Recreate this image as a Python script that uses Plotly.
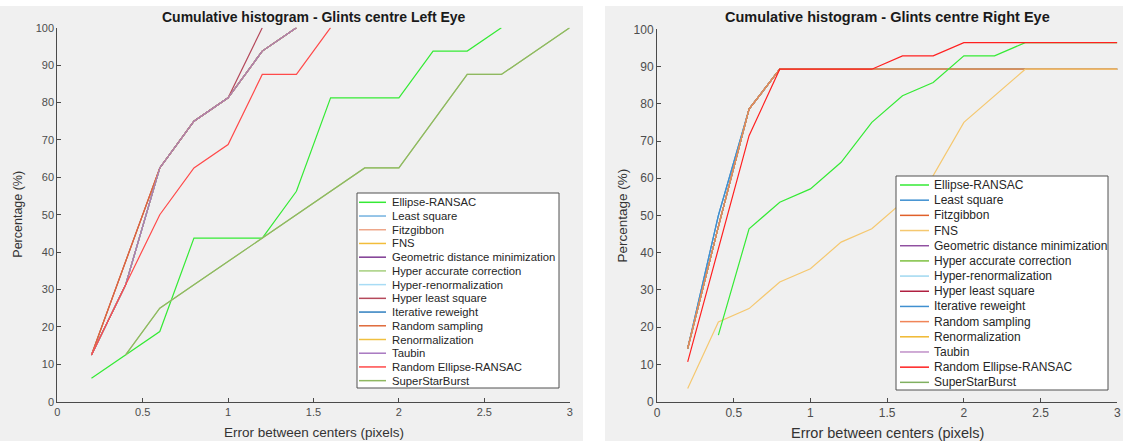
import plotly.graph_objects as go

W, H = 1123, 441
FONT = "Liberation Sans, Arial, sans-serif"

# ---------------- data ----------------
methods = [
    "Ellipse-RANSAC", "Least square", "Fitzgibbon", "FNS",
    "Geometric distance minimization", "Hyper accurate correction",
    "Hyper-renormalization", "Hyper least square", "Iterative reweight",
    "Random sampling", "Renormalization", "Taubin",
    "Random Ellipse-RANSAC", "SuperStarBurst",
]

error_px = [0.2, 0.4, 0.6, 0.8, 1.0, 1.2, 1.4, 1.6, 1.8, 2.0, 2.2, 2.4, 2.6, 2.8, 3.0]
x_ticks = [0, 0.5, 1, 1.5, 2, 2.5, 3]
x_tick_labels = ["0", "0.5", "1", "1.5", "2", "2.5", "3"]
y_ticks = [0, 10, 20, 30, 40, 50, 60, 70, 80, 90, 100]

# Left eye cumulative percentages (aligned to error_px, None = no sample)
left_ellipse_ransac = [6.25, 12.5, 18.75, 43.75, 43.75, 43.75, 56.25, 81.25, 81.25, 81.25, 93.75, 93.75, 100]
left_taubin_group = [12.5, 31.25, 62.5, 75, 81.25, 93.75, 100]
left_fitzgibbon_group = [12.5, 37.5, 62.5, 75, 81.25, 93.75, 100]
left_hyper_lsq = [12.5, 37.5, 62.5, 75, 81.25, 100]
left_hyper_accurate_group = [None, 12.5, 25, 31.25, 37.5, 43.75, 50, 56.25, 62.5, 62.5, 75, 87.5, 87.5, 93.75, 100]
left_random_ellipse = [12.5, 31.25, 50, 62.5, 68.75, 87.5, 87.5, 100]

# Right eye cumulative percentages
right_ellipse_ransac = [None, 17.86, 46.43, 53.57, 57.14, 64.29, 75.0, 82.14, 85.71, 92.86, 92.86, 96.43, 96.43, 96.43, 96.43]
right_fns = [3.57, 21.43, 25.0, 32.14, 35.71, 42.86, 46.43, 53.57, 60.71, 75.0, 82.14, 89.29, 89.29, 89.29, 89.29]
right_lsq_group = [14.29, 50.0, 78.57, 89.29, 89.29, 89.29, 89.29, 89.29, 89.29, 89.29, 89.29, 89.29, 89.29, 89.29, 89.29]
right_fitz_group = [14.29, 47.0, 78.57, 89.29, 89.29, 89.29, 89.29, 89.29, 89.29, 89.29, 89.29, 89.29, 89.29, 89.29, 89.29]
right_random_ellipse = [10.71, 41.07, 71.43, 89.29, 89.29, 89.29, 89.29, 92.86, 92.86, 96.43, 96.43, 96.43, 96.43, 96.43, 96.43]

left_series = {
    "Ellipse-RANSAC": left_ellipse_ransac,
    "Least square": left_taubin_group,
    "Fitzgibbon": left_fitzgibbon_group,
    "FNS": left_taubin_group,
    "Geometric distance minimization": left_taubin_group,
    "Hyper accurate correction": left_hyper_accurate_group,
    "Hyper-renormalization": left_taubin_group,
    "Hyper least square": left_hyper_lsq,
    "Iterative reweight": left_taubin_group,
    "Random sampling": left_fitzgibbon_group,
    "Renormalization": left_taubin_group,
    "Taubin": left_taubin_group,
    "Random Ellipse-RANSAC": left_random_ellipse,
    "SuperStarBurst": left_hyper_accurate_group,
}
right_series = {
    "Ellipse-RANSAC": right_ellipse_ransac,
    "Least square": right_lsq_group,
    "Fitzgibbon": right_fitz_group,
    "FNS": right_fns,
    "Geometric distance minimization": right_fitz_group,
    "Hyper accurate correction": right_fitz_group,
    "Hyper-renormalization": right_fitz_group,
    "Hyper least square": right_fitz_group,
    "Iterative reweight": right_lsq_group,
    "Random sampling": right_fitz_group,
    "Renormalization": right_fitz_group,
    "Taubin": right_fitz_group,
    "Random Ellipse-RANSAC": right_random_ellipse,
    "SuperStarBurst": right_fitz_group,
}

left_colors = {
    "Ellipse-RANSAC": "#35ea35", "Least square": "#74b2e0", "Fitzgibbon": "#eea78a",
    "FNS": "#f2bd3a", "Geometric distance minimization": "#7e3a92",
    "Hyper accurate correction": "#a6cf7e", "Hyper-renormalization": "#a8dcf5",
    "Hyper least square": "#b5495b", "Iterative reweight": "#2f7fbf",
    "Random sampling": "#df6a3a", "Renormalization": "#f0c040", "Taubin": "#a878c0",
    "Random Ellipse-RANSAC": "#ff4a4a", "SuperStarBurst": "#8fb860",
}
right_colors = {
    "Ellipse-RANSAC": "#35ea35", "Least square": "#3d8fd0", "Fitzgibbon": "#e0602a",
    "FNS": "#f5c870", "Geometric distance minimization": "#9050a0",
    "Hyper accurate correction": "#7ec040", "Hyper-renormalization": "#a0d8f0",
    "Hyper least square": "#b02040", "Iterative reweight": "#4090d0",
    "Random sampling": "#f08558", "Renormalization": "#f0b830", "Taubin": "#c090c8",
    "Random Ellipse-RANSAC": "#ff2020", "SuperStarBurst": "#80b060",
}

# drawing order (later traces sit on top)
left_order = methods
right_order = [
    "Least square", "Iterative reweight", "Fitzgibbon", "Geometric distance minimization",
    "Hyper accurate correction", "Hyper-renormalization", "Hyper least square",
    "Renormalization", "Taubin", "SuperStarBurst", "Random sampling", "FNS",
    "Ellipse-RANSAC", "Random Ellipse-RANSAC",
]


def px(x):
    return x / W


def py(y):
    return 1 - y / H


fig = go.Figure()

for name in left_order:
    ys = left_series[name]
    fig.add_trace(go.Scatter(
        x=error_px[:len(ys)], y=ys, mode="lines", name=name,
        line=dict(color=left_colors[name], width=1.2),
        xaxis="x", yaxis="y", showlegend=False, hoverinfo="skip"))

for name in right_order:
    ys = right_series[name]
    fig.add_trace(go.Scatter(
        x=error_px[:len(ys)], y=ys, mode="lines", name=name,
        line=dict(color=right_colors[name], width=1.2),
        xaxis="x2", yaxis="y2", showlegend=False, hoverinfo="skip"))

AX_COLOR = "#4a4a4a"


def xaxis_cfg(domain, fsize):
    return dict(domain=domain, range=[0, 3], tickvals=x_ticks, ticktext=x_tick_labels,
                ticks="inside", ticklen=4, tickcolor=AX_COLOR, showline=True,
                linecolor=AX_COLOR, linewidth=1, showgrid=False, zeroline=False,
                tickfont=dict(family=FONT, size=fsize, color="#4d4d4d"),
                automargin=False, fixedrange=True)


def yaxis_cfg(domain, fsize, anchor):
    return dict(domain=domain, range=[0, 100], tickvals=y_ticks, anchor=anchor,
                ticks="inside", ticklen=4, tickcolor=AX_COLOR, showline=True,
                linecolor=AX_COLOR, linewidth=1, showgrid=False, zeroline=False,
                tickfont=dict(family=FONT, size=fsize, color="#4d4d4d"),
                automargin=False, fixedrange=True)


L_AX = (57.3, 569.7, 27.7, 401.7)
R_AX = (657.0, 1117.3, 29.3, 401.7)

shapes = [
    dict(type="rect", xref="paper", yref="paper", x0=px(0), x1=px(583), y0=py(441), y1=py(6),
         fillcolor="#f0f0f0", line=dict(width=0), layer="below"),
    dict(type="rect", xref="paper", yref="paper", x0=px(605), x1=px(1123), y0=py(441), y1=py(6),
         fillcolor="#f0f0f0", line=dict(width=0), layer="below"),
]
annotations = []

# titles and axis labels
panels = [
    (L_AX, "Cumulative histogram - Glints centre Left Eye", 14, 16.5, 13.5, 432, 18, 11),
    (R_AX, "Cumulative histogram - Glints centre Right Eye", 14.5, 17.5, 14.5, 433, 622, 12),
]
for (ax, title, tsize, ty, lsize, xly, ylx, fs) in panels:
    x0, x1, y0, y1 = ax
    cx = (x0 + x1) / 2
    annotations.append(dict(text="<b>%s</b>" % title, x=px(cx), y=py(ty), xref="paper", yref="paper",
                            xanchor="center", yanchor="middle", showarrow=False,
                            font=dict(family=FONT, size=tsize, color="#1a1a1a")))
    annotations.append(dict(text="Error between centers (pixels)", x=px(cx), y=py(xly),
                            xref="paper", yref="paper", xanchor="center", yanchor="middle",
                            showarrow=False, font=dict(family=FONT, size=lsize, color="#333333")))
    annotations.append(dict(text="Percentage (%)", x=px(ylx), y=py((y0 + y1) / 2),
                            xref="paper", yref="paper", xanchor="center", yanchor="middle",
                            textangle=-90, showarrow=False,
                            font=dict(family=FONT, size=lsize - 1, color="#333333")))

# legends drawn as boxes, swatches and labels
legends = [
    # box, first row y, row step, swatch x range, text x, font size, colours
    ((357, 193, 559, 388), 202.3, 13.72, (359, 386), 390, 11.3, left_colors),
    ((896, 176, 1108, 390), 185.0, 15.18, (900, 929), 932, 12, right_colors),
]
for (box, r0, step, (sx0, sx1), tx, fsz, cols) in legends:
    bx0, by0, bx1, by1 = box
    shapes.append(dict(type="rect", xref="paper", yref="paper", x0=px(bx0), x1=px(bx1),
                       y0=py(by1), y1=py(by0), fillcolor="white",
                       line=dict(color="#505050", width=1), layer="above"))
    for i, name in enumerate(methods):
        ry = r0 + i * step
        shapes.append(dict(type="line", xref="paper", yref="paper", x0=px(sx0), x1=px(sx1),
                           y0=py(ry), y1=py(ry), line=dict(color=cols[name], width=1.5),
                           layer="above"))
        annotations.append(dict(text=name, x=px(tx), y=py(ry), xref="paper", yref="paper",
                                xanchor="left", yanchor="middle", showarrow=False,
                                font=dict(family=FONT, size=fsz, color="#262626")))

fig.update_layout(
    width=W, height=H,
    margin=dict(l=0, r=0, t=0, b=0),
    paper_bgcolor="white",
    plot_bgcolor="white",
    xaxis=xaxis_cfg([px(L_AX[0]), px(L_AX[1])], 11),
    yaxis=yaxis_cfg([py(L_AX[3]), py(L_AX[2])], 11, "x"),
    xaxis2=xaxis_cfg([px(R_AX[0]), px(R_AX[1])], 12) | dict(anchor="y2"),
    yaxis2=yaxis_cfg([py(R_AX[3]), py(R_AX[2])], 12, "x2"),
    shapes=shapes,
    annotations=annotations,
    showlegend=False,
)

fig.write_html("out.html")
